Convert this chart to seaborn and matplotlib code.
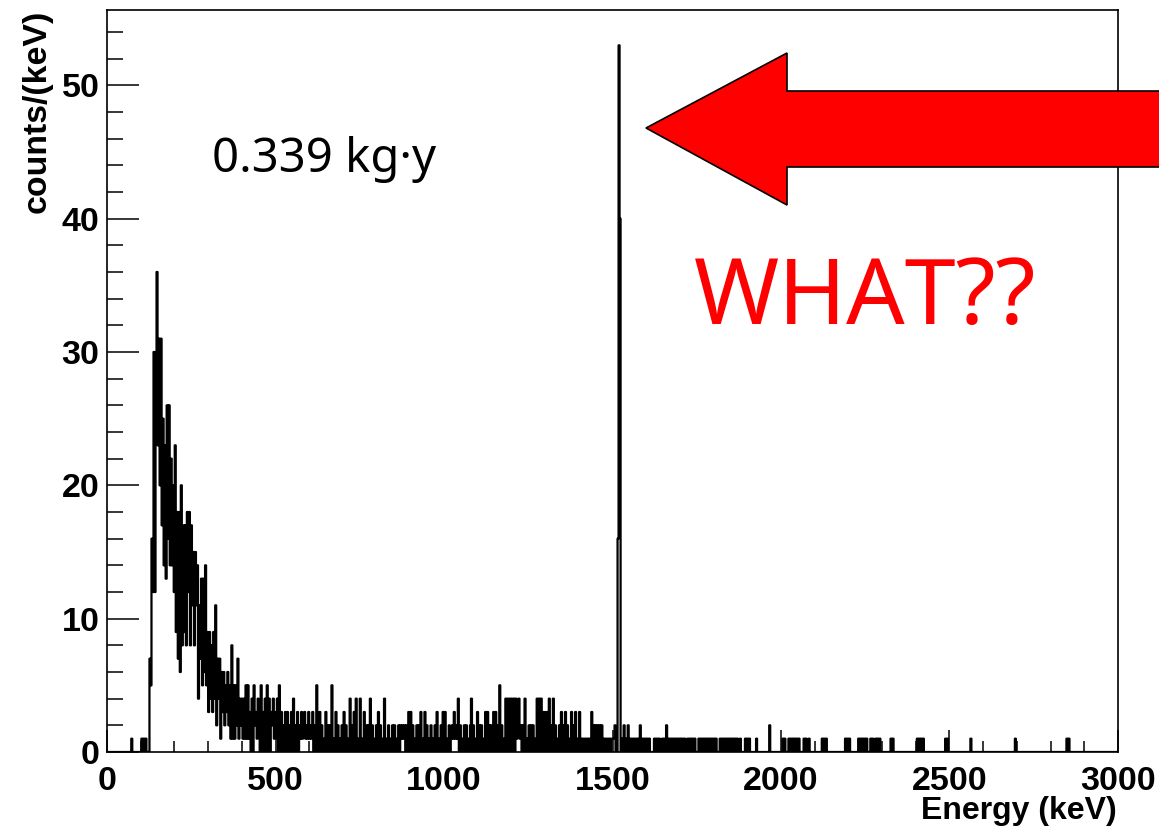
import numpy as np
import pandas as pd
import seaborn as sns
import matplotlib
matplotlib.use("Agg")
import matplotlib.pyplot as plt
from matplotlib.patches import Polygon
from matplotlib.ticker import MultipleLocator

# ---- spectrum, 3 keV bins from 0 to 3000 keV ----
bin_width = 3
energy_max = 3000

# isolated single counts below the threshold region
low_hits = [72, 102, 108, 114]

# dense low-energy part, bins starting at 120 keV
low_start = 120
low_counts = [
    0, 0, 7, 5, 16, 12, 30, 12, 30, 36,
    23, 31, 20, 31, 17, 25, 14, 23, 13, 26,
    16, 26, 14, 22, 14, 20, 12, 23, 9, 18,
    7, 18, 6, 20, 8, 17, 9, 17, 8, 18,
    12, 18, 8, 17, 11, 15, 8, 15, 11, 14,
    4, 11, 7, 13, 5, 13, 6, 14, 5, 9,
    3, 9, 4, 8, 3, 9, 4, 11, 2, 7,
    4, 7, 1, 6, 3, 6, 2, 5, 3, 6,
    2, 5, 1, 8, 1, 5, 1, 5, 2, 7,
    1, 4, 2, 4, 1, 4, 1, 5, 1, 5,
    1, 3, 0, 4, 0, 5, 2, 3, 1, 4,
]

# continuum between 450 keV and the line
mid_start = 450
mid_counts = [
    2, 0, 5, 0, 3, 0, 4, 0, 5, 0,
    4, 0, 3, 2, 4, 1, 1, 3, 4, 0,
    5, 0, 3, 0, 2, 0, 3, 0, 3, 0,
    2, 0, 3, 0, 4, 0, 2, 0, 3, 0,
    2, 1, 3, 1, 2, 3, 1, 2, 1, 3,
    1, 2, 1, 3, 0, 2, 0, 5, 0, 2,
    3, 0, 2, 0, 1, 0, 3, 0, 2, 0,
    2, 0, 5, 0, 1, 0, 3, 0, 2, 0,
    1, 0, 2, 0, 3, 0, 2, 0, 1, 0,
    4, 0, 2, 0, 3, 0, 4, 0, 1, 0,
    4, 0, 1, 0, 3, 0, 2, 0, 2, 0,
    4, 0, 2, 0, 1, 0, 2, 0, 3, 0,
    2, 0, 1, 0, 4, 0, 1, 0, 2, 0,
    1, 0, 2, 0, 2, 0, 1, 0, 2, 0,
    2, 1, 2, 1, 2, 0, 2, 0, 3, 0,
    3, 0, 2, 0, 1, 0, 2, 0, 2, 0,
    3, 0, 1, 0, 3, 0, 2, 0, 1, 0,
    2, 0, 1, 0, 2, 0, 3, 0, 1, 0,
    2, 0, 3, 0, 3, 0, 1, 0, 2, 0,
    1, 2, 1, 3, 1, 2, 1, 4, 0, 2,
    0, 1, 0, 2, 0, 2, 0, 1, 0, 2,
    4, 0, 2, 0, 1, 0, 3, 0, 2, 0,
    2, 0, 1, 0, 3, 0, 3, 0, 2, 0,
    2, 0, 3, 0, 3, 0, 2, 0, 5, 0,
    2, 0, 1, 0, 4, 0, 4, 0, 4, 0,
    4, 0, 4, 0, 4, 1, 2, 4, 1, 2,
    0, 2, 0, 4, 0, 1, 0, 2, 0, 2,
    0, 2, 0, 1, 0, 4, 0, 4, 0, 4,
    0, 3, 0, 3, 0, 3, 0, 4, 0, 2,
    0, 4, 0, 2, 0, 1, 0, 2, 0, 3,
    0, 2, 0, 3, 0, 2, 0, 1, 0, 3,
    0, 2, 0, 3, 0, 1, 0, 3, 0, 1,
    0, 1, 0, 1, 0, 1, 0, 1, 0, 3,
    0, 2, 0, 2, 0, 2, 0, 2, 0, 2,
    0, 1, 0, 1, 0, 1, 0, 1, 0, 1,
    1, 1, 2, 0, 0,
]

# the line near 1520 keV
peak_start = 1515
peak_counts = [16, 53, 40]

# just above the line
post_start = 1524
post_counts = [0, 1, 0, 2, 0, 1, 0, 2, 0, 1, 0, 1, 0, 1, 0, 1, 0, 1, 0]

# sparse high-energy events
tail_hits = [
    1584, 1590, 1596, 1602, 1608, 1623, 1629, 1635, 1638, 1647, 1653,
    1665, 1671, 1677, 1680, 1686, 1692, 1698, 1701, 1707, 1713,
    1722, 1728, 1731, 1737, 1743, 1755, 1761, 1764, 1770, 1776, 1782, 1788,
    1794, 1800, 1806, 1818, 1824, 1830, 1836, 1839, 1845, 1851, 1857,
    1863, 1869, 1878, 1893, 1899, 1905, 1927,
    2004, 2010, 2022, 2028, 2034, 2040, 2046, 2052, 2067, 2073, 2082,
    2121, 2127, 2133, 2190, 2196, 2202, 2229, 2235, 2241, 2247, 2253,
    2265, 2271, 2280, 2286, 2292, 2325, 2331, 2403, 2409, 2415, 2421,
    2487, 2493, 2562, 2694, 2847, 2853,
]
tail_doubles = [1581, 1659, 1965]

# ---- assemble the binned spectrum ----
edges = np.arange(0, energy_max + bin_width, bin_width)
counts = np.zeros(len(edges) - 1)
for e in low_hits:
    counts[e // bin_width] += 1
for start, seg in [(low_start, low_counts), (mid_start, mid_counts),
                   (peak_start, peak_counts), (post_start, post_counts)]:
    i0 = start // bin_width
    counts[i0:i0 + len(seg)] = seg
for e in tail_hits:
    counts[e // bin_width] += 1
for e in tail_doubles:
    counts[e // bin_width] = 2

spectrum = pd.DataFrame({"energy": edges[:-1] + bin_width / 2, "counts": counts})

# ---- figure ----
sns.set_theme(style="white")
plt.rcParams["font.family"] = ["Liberation Sans", "DejaVu Sans"]
plt.rcParams.update({"text.color": "black", "xtick.color": "black",
                     "ytick.color": "black", "axes.labelcolor": "black",
                     "path.simplify": False})

W, H = 1159, 831
fig = plt.figure(figsize=(W / 100, H / 100), dpi=100)
ax = fig.add_axes([107 / W, 1 - 752 / H, (1118 - 107) / W, (752 - 10) / H])

sns.histplot(data=spectrum, x="energy", weights="counts",
             binwidth=bin_width, binrange=(0, energy_max),
             element="step", fill=False, color="black", linewidth=1.6, ax=ax)

ax.set_xlim(0, energy_max)
ax.set_ylim(0, 55.65)
ax.set_xlabel("")
ax.set_ylabel("")

for s in ax.spines.values():
    s.set_color("black")
    s.set_linewidth(1.2)

ax.xaxis.set_major_locator(MultipleLocator(500))
ax.xaxis.set_minor_locator(MultipleLocator(100))
ax.yaxis.set_major_locator(MultipleLocator(10))
ax.yaxis.set_minor_locator(MultipleLocator(2))
ax.tick_params(axis="x", which="major", direction="in", length=16, width=1.1,
               bottom=True, top=False, pad=10, labelsize=24.5)
ax.tick_params(axis="x", which="minor", direction="in", length=8, width=1.1,
               bottom=True, top=False)
ax.tick_params(axis="y", which="major", direction="in", length=23, width=1.1,
               left=True, right=False, pad=5.5, labelsize=24.5)
ax.tick_params(axis="y", which="minor", direction="in", length=11.5, width=1.1,
               left=True, right=False)
for lab in ax.get_xticklabels() + ax.get_yticklabels():
    lab.set_fontweight("bold")
    lab.set_color("black")

fig.text(37 / W, 1 - 10 / H, "counts/(keV)", rotation=90, ha="center", va="top",
         fontsize=24.4, fontweight="bold")
fig.text(1117 / W, 1 - 826 / H, "Energy (keV)", ha="right", va="bottom",
         fontsize=23, fontweight="bold")

fig.text(212 / W, 1 - 172 / H, "0.339 kg\u00b7y", ha="left", va="baseline",
         fontsize=34, family=["Noto Sans", "DejaVu Sans"], color="black")

fig.text(865 / W, 1 - 324 / H, "WHAT??", ha="center", va="baseline",
         fontsize=66, family=["Noto Sans", "DejaVu Sans"], color="#ff0000")

arrow_pts = np.array([
    (646, 128), (787, 53), (787, 91), (1165, 91),
    (1165, 167), (787, 167), (787, 205),
], dtype=float)
arrow_pts[:, 0] /= W
arrow_pts[:, 1] = 1 - arrow_pts[:, 1] / H
arrow = Polygon(arrow_pts, closed=True, facecolor="#ff0000", edgecolor="black",
                linewidth=1.2, transform=fig.transFigure, zorder=10, clip_on=False)
fig.add_artist(arrow)

fig.savefig("out.png", dpi=100, facecolor="white")
